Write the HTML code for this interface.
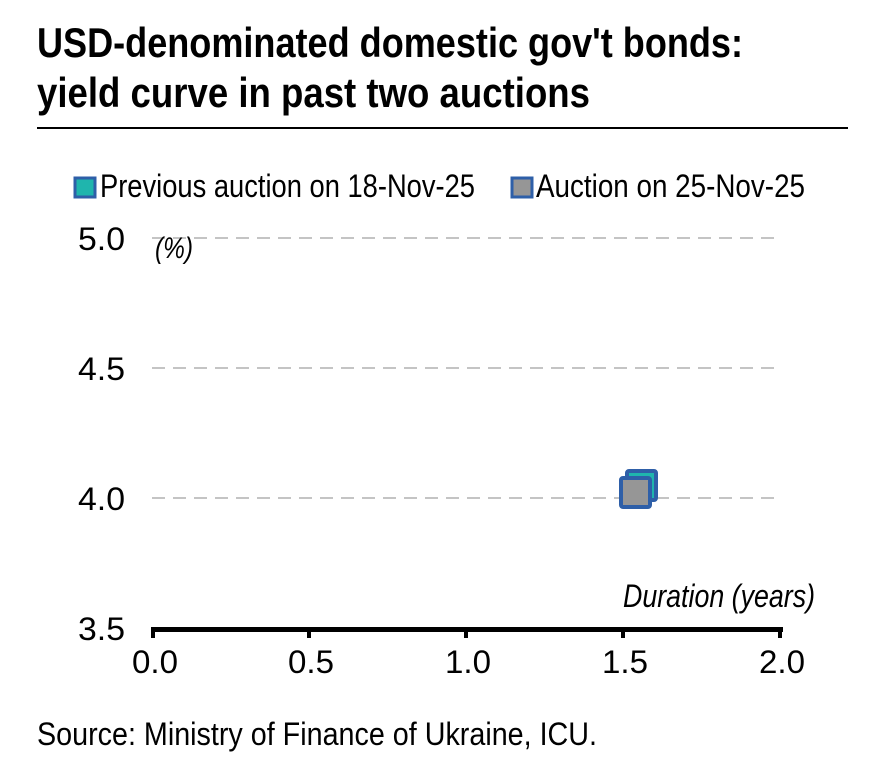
<!DOCTYPE html>
<html><head><meta charset="utf-8"><style>
html,body{margin:0;padding:0;background:#fff;}
svg{display:block;font-family:"Liberation Sans Narrow","Liberation Sans",sans-serif;}
</style></head><body>
<svg width="870" height="778" viewBox="0 0 870 778" xmlns="http://www.w3.org/2000/svg">
<g font-weight="bold" font-size="42" fill="#000">
<text x="37" y="57" textLength="706" lengthAdjust="spacingAndGlyphs">USD-denominated domestic gov't bonds:</text>
<text x="37" y="107" textLength="553" lengthAdjust="spacingAndGlyphs">yield curve in past two auctions</text>
</g>
<rect x="37" y="127" width="811" height="2" fill="#000"/>
<rect x="75" y="178" width="20" height="19" fill="#1fb5ad" stroke="#2e5fa8" stroke-width="3"/>
<text x="100" y="197" font-size="32" textLength="375" lengthAdjust="spacingAndGlyphs">Previous auction on 18-Nov-25</text>
<rect x="512" y="178" width="20" height="19" fill="#969696" stroke="#2e5fa8" stroke-width="3"/>
<text x="536" y="197" font-size="32" textLength="269" lengthAdjust="spacingAndGlyphs">Auction on 25-Nov-25</text>
<g stroke="#c4c4c4" stroke-width="2" stroke-dasharray="13,8">
<line x1="152" y1="238" x2="778" y2="238"/>
<line x1="152" y1="368" x2="778" y2="368"/>
<line x1="152" y1="498" x2="778" y2="498"/>
</g>
<g font-size="32">
<text x="78" y="250" textLength="47" lengthAdjust="spacingAndGlyphs">5.0</text>
<text x="78" y="380" textLength="47" lengthAdjust="spacingAndGlyphs">4.5</text>
<text x="78" y="510" textLength="47" lengthAdjust="spacingAndGlyphs">4.0</text>
<text x="78" y="640" textLength="47" lengthAdjust="spacingAndGlyphs">3.5</text>
</g>
<text x="155" y="258" font-size="30" font-style="italic" textLength="38" lengthAdjust="spacingAndGlyphs">(%)</text>
<text x="623" y="607" font-size="32" font-style="italic" textLength="192" lengthAdjust="spacingAndGlyphs">Duration (years)</text>
<rect x="151" y="627" width="632" height="5" fill="#000"/>
<g fill="#000">
<rect x="151" y="627" width="4" height="11"/>
<rect x="307" y="627" width="4" height="11"/>
<rect x="464" y="627" width="4" height="11"/>
<rect x="621" y="627" width="4" height="11"/>
<rect x="778" y="627" width="4" height="11"/>
</g>
<g font-size="32">
<text x="132" y="673" textLength="46" lengthAdjust="spacingAndGlyphs">0.0</text>
<text x="288" y="673" textLength="46" lengthAdjust="spacingAndGlyphs">0.5</text>
<text x="445" y="673" textLength="46" lengthAdjust="spacingAndGlyphs">1.0</text>
<text x="602" y="673" textLength="46" lengthAdjust="spacingAndGlyphs">1.5</text>
<text x="759" y="673" textLength="46" lengthAdjust="spacingAndGlyphs">2.0</text>
</g>
<rect x="627" y="471" width="29" height="29" rx="2" fill="#1fb5ad" stroke="#2e5fa8" stroke-width="4"/>
<rect x="621" y="478" width="29" height="29" rx="2" fill="#969696" stroke="#2e5fa8" stroke-width="4"/>
<text x="37" y="745" font-size="32" textLength="560" lengthAdjust="spacingAndGlyphs">Source: Ministry of Finance of Ukraine, ICU.</text>
</svg>
</body></html>
